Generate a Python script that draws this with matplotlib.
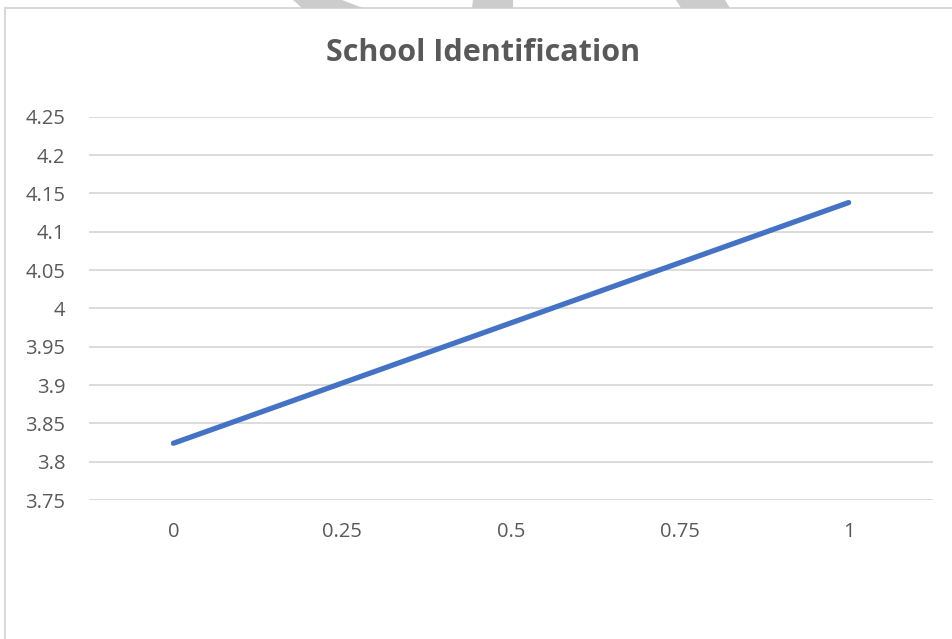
import matplotlib
matplotlib.use("Agg")
import matplotlib.pyplot as plt
from matplotlib.patches import Polygon, Rectangle

# series
x_vals = [0, 1]
y_vals = [3.824, 4.138]

x_ticks = [0, 0.25, 0.5, 0.75, 1]
x_labels = ["0", "0.25", "0.5", "0.75", "1"]
y_ticks = [3.75, 3.8, 3.85, 3.9, 3.95, 4.0, 4.05, 4.1, 4.15, 4.2, 4.25]
y_labels = ["3.75", "3.8", "3.85", "3.9", "3.95", "4", "4.05", "4.1", "4.15", "4.2", "4.25"]

TEXT_GRAY = "#595959"
GRID_GRAY = "#d9d9d9"
LINE_BLUE = "#4472c4"

W, H = 953, 639
fig = plt.figure(figsize=(W / 100, H / 100), dpi=100)
fig.patch.set_facecolor("white")

def px(x, y):
    # pixel coords (top-left origin) -> figure fraction
    return (x / W, 1 - y / H)

# chart frame
frame = Rectangle(px(5, 700), (W + 10) / W, 692 / H, transform=fig.transFigure,
                  fill=False, edgecolor=GRID_GRAY, linewidth=1.5)
fig.patches.append(frame)

# grey stripes peeking in above the frame
stripes = [
    [(293, 0), (342, 0), (363, 8), (302, 8)],
    [(473, 0), (513, 0), (513, 8), (472, 8)],
    [(676, 0), (725, 0), (730, 8), (681, 8)],
]
for s in stripes:
    fig.patches.append(Polygon([px(*p) for p in s], closed=True, transform=fig.transFigure,
                               facecolor="#cccccc", edgecolor="none"))

ax = fig.add_axes([89 / W, (H - 500) / H, 844 / W, 383.3 / H])
ax.set_facecolor("none")

ax.plot(x_vals, y_vals, color=LINE_BLUE, linewidth=3.8, solid_capstyle="round", zorder=3)

ax.set_xlim(-0.125, 1.125)
ax.set_ylim(3.75, 4.25)
ax.set_xticks(x_ticks)
ax.set_xticklabels(x_labels)
ax.set_yticks(y_ticks)
ax.set_yticklabels(y_labels)
ax.yaxis.grid(True, color=GRID_GRAY, linewidth=1.3)
ax.set_axisbelow(True)
for sp in ax.spines.values():
    sp.set_visible(False)
ax.tick_params(axis="both", length=0, labelsize=14.5, labelcolor=TEXT_GRAY)
ax.tick_params(axis="y", pad=17)
ax.tick_params(axis="x", pad=16)
for lab in ax.get_xticklabels() + ax.get_yticklabels():
    lab.set_fontfamily("Open Sans")

fig.text(483 / W, 1 - 53 / H, "School Identification", ha="center", va="center",
         fontsize=22, fontweight="bold", color=TEXT_GRAY, family="Open Sans")

fig.savefig("out.png", dpi=100)
